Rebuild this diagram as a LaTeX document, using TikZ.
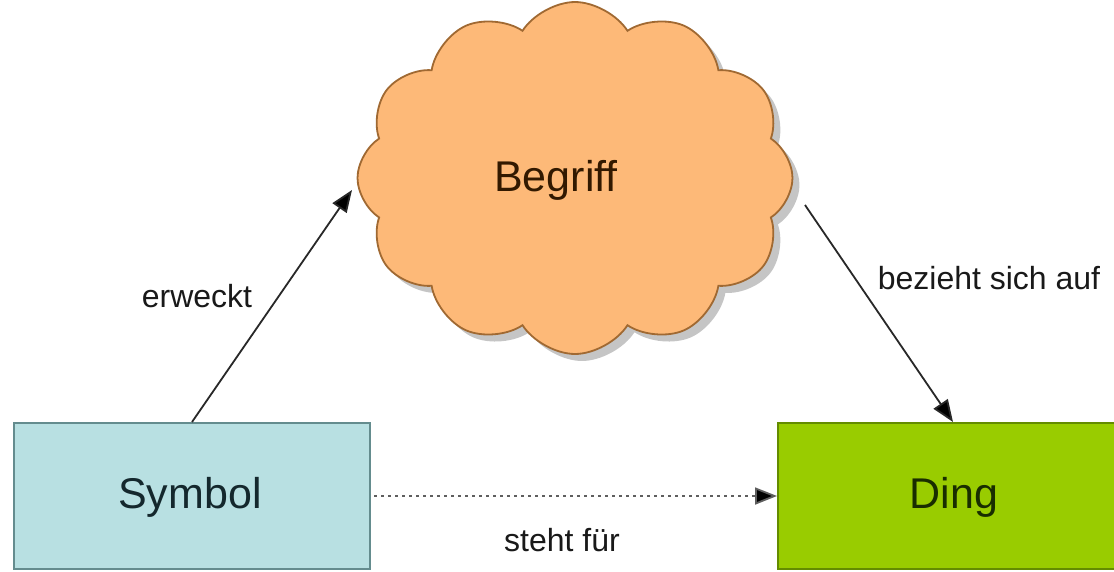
\documentclass[tikz,border=0pt]{standalone}
\usepackage{fontspec}
\setmainfont{Liberation Sans}
\usetikzlibrary{arrows.meta,shapes.symbols,shadows}
\definecolor{symfill}{RGB}{184,224,226}
\definecolor{symdraw}{RGB}{100,140,142}
\definecolor{dingfill}{RGB}{153,204,0}
\definecolor{dingdraw}{RGB}{100,140,0}
\definecolor{cloudfill}{RGB}{253,185,120}
\definecolor{clouddraw}{RGB}{160,105,50}
\definecolor{linecol}{RGB}{40,40,40}
\definecolor{symtext}{RGB}{20,40,45}
\definecolor{dingtext}{RGB}{25,45,0}
\definecolor{begtext}{RGB}{50,25,0}
\tikzset{
  bigtext/.style={font=\fontsize{43}{50}\selectfont},
  lbl/.style={font=\fontsize{32}{38}\selectfont, text=black!90},
  boxnode/.style={draw, line width=2pt, inner sep=0pt, anchor=north west, bigtext},
  conn/.style={draw=linecol, line width=1.8pt, -{Triangle[length=22pt,width=17pt,fill=black]}},
  dotconn/.style={draw=linecol!75, line width=1.8pt, dash pattern=on 3pt off 4pt, -{Triangle[length=22pt,width=17pt,fill=black]}}
}
\begin{document}
\begin{tikzpicture}[x=1pt,y=-1pt]
\clip (0,0) rectangle (1114,571);
\fill[white] (0,0) rectangle (1114,571);
% boxes
\node[boxnode, fill=symfill, draw=symdraw, minimum width=356pt, minimum height=146pt] (S) at (13,422) {};
\node[bigtext, text=symtext] (St) at (190,497) {Symbol};
\node[boxnode, fill=dingfill, draw=dingdraw, minimum width=354pt, minimum height=146pt] (D) at (777,422) {};
\node[bigtext, text=dingtext] (Dt) at (954,497) {Ding};
% cloud
\node[cloud, cloud puffs=12, cloud puff arc=115, aspect=1.25, draw=clouddraw, line width=1.8pt, fill=cloudfill,
      minimum width=435pt, minimum height=352pt,
      drop shadow={shadow xshift=7pt, shadow yshift=-7pt, opacity=0.45}] (B) at (575,178) {};
\node[bigtext, text=begtext] (Bt) at (556,180) {Begriff};
% connectors
\coordinate (eT) at (352,190);
\coordinate (bS) at (805,205);
\draw[conn] ([xshift=179pt]S.north west) -- (eT);
\draw[conn] (bS) -- ([xshift=176pt]D.north west);
\draw[dotconn] (S.east) ++(3pt,0) -- (D.west);
% labels
\node[lbl] (le) at (197,296) {erweckt};
\node[lbl] (lb) at (989,278) {bezieht sich auf};
\node[lbl] (ls) at (562,540) {steht für};
\end{tikzpicture}
\end{document}
